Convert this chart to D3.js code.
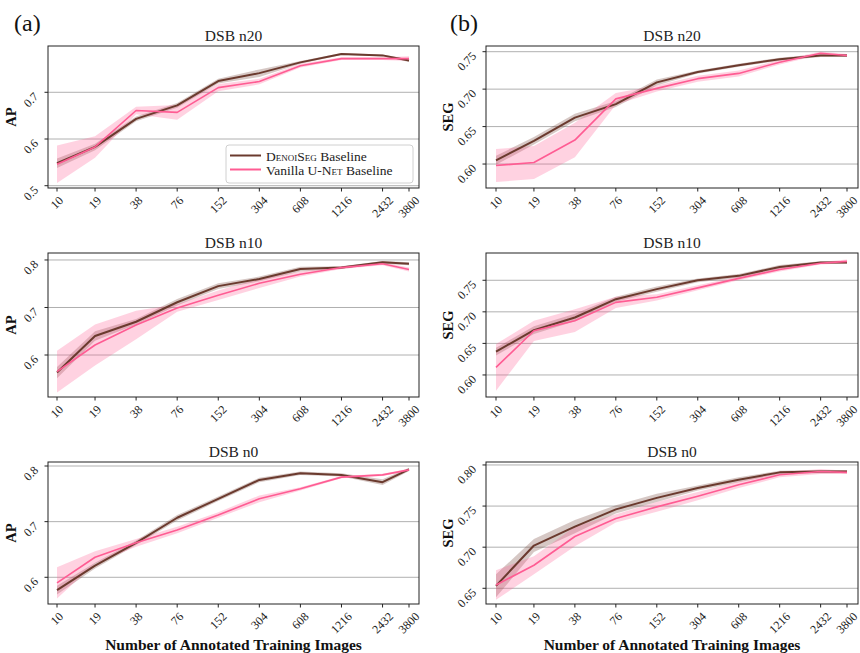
<!DOCTYPE html>
<html>
<head>
<meta charset="utf-8">
<script src="https://cdn.jsdelivr.net/npm/d3@7"></script>
<style>
  body { margin: 0; background: #fff; }
  svg { display: block; font-family: "Liberation Serif", "DejaVu Serif", serif; }
</style>
</head>
<body>
<div id="chart"></div>
<script>
// training set sizes (x axis, log scale)
const sizes = [10, 19, 38, 76, 152, 304, 608, 1216, 2432, 3800];

// AP, n20
const apN20Denoiseg   = [0.548, 0.583, 0.643, 0.672, 0.724, 0.741, 0.764, 0.782, 0.779, 0.768];
const apN20DenoisegSd = [0.010, 0.007, 0.005, 0.005, 0.005, 0.008, 0.003, 0.002, 0.002, 0.003];
const apN20Vanilla    = [0.546, 0.583, 0.661, 0.657, 0.710, 0.723, 0.757, 0.772, 0.772, 0.772];
const apN20VanillaSd  = [0.040, 0.023, 0.008, 0.016, 0.008, 0.006, 0.004, 0.003, 0.003, 0.005];
// SEG, n20
const segN20Denoiseg   = [0.605, 0.631, 0.662, 0.680, 0.709, 0.723, 0.732, 0.740, 0.745, 0.745];
const segN20DenoisegSd = [0.006, 0.005, 0.005, 0.004, 0.004, 0.002, 0.002, 0.002, 0.002, 0.002];
const segN20Vanilla    = [0.598, 0.602, 0.632, 0.687, 0.701, 0.714, 0.721, 0.736, 0.748, 0.745];
const segN20VanillaSd  = [0.022, 0.022, 0.023, 0.008, 0.004, 0.004, 0.004, 0.003, 0.002, 0.002];
// AP, n10
const apN10Denoiseg   = [0.563, 0.640, 0.670, 0.711, 0.745, 0.760, 0.781, 0.784, 0.795, 0.792];
const apN10DenoisegSd = [0.012, 0.010, 0.006, 0.007, 0.006, 0.005, 0.005, 0.003, 0.003, 0.003];
const apN10Vanilla    = [0.565, 0.621, 0.663, 0.699, 0.726, 0.751, 0.770, 0.784, 0.792, 0.780];
const apN10VanillaSd  = [0.044, 0.043, 0.030, 0.008, 0.010, 0.010, 0.005, 0.003, 0.003, 0.004];
// SEG, n10
const segN10Denoiseg   = [0.637, 0.671, 0.691, 0.720, 0.736, 0.750, 0.757, 0.771, 0.778, 0.778];
const segN10DenoisegSd = [0.006, 0.006, 0.006, 0.004, 0.004, 0.003, 0.003, 0.003, 0.002, 0.002];
const segN10Vanilla    = [0.612, 0.670, 0.686, 0.715, 0.723, 0.738, 0.753, 0.767, 0.777, 0.780];
const segN10VanillaSd  = [0.037, 0.016, 0.018, 0.009, 0.005, 0.004, 0.003, 0.003, 0.002, 0.003];
// AP, n0
const apN0Denoiseg   = [0.577, 0.621, 0.662, 0.707, 0.741, 0.775, 0.787, 0.784, 0.771, 0.794];
const apN0DenoisegSd = [0.008, 0.005, 0.004, 0.005, 0.004, 0.004, 0.003, 0.003, 0.005, 0.003];
const apN0Vanilla    = [0.590, 0.636, 0.662, 0.685, 0.712, 0.741, 0.759, 0.780, 0.784, 0.793];
const apN0VanillaSd  = [0.028, 0.011, 0.007, 0.006, 0.005, 0.006, 0.003, 0.002, 0.002, 0.002];
// SEG, n0
const segN0Denoiseg   = [0.653, 0.702, 0.725, 0.746, 0.760, 0.772, 0.782, 0.791, 0.792, 0.792];
const segN0DenoisegSd = [0.014, 0.008, 0.008, 0.005, 0.005, 0.003, 0.003, 0.002, 0.002, 0.002];
const segN0Vanilla    = [0.654, 0.678, 0.713, 0.735, 0.749, 0.762, 0.776, 0.788, 0.792, 0.791];
const segN0VanillaSd  = [0.018, 0.011, 0.012, 0.005, 0.006, 0.005, 0.004, 0.003, 0.003, 0.002];

const apTicks1 = [0.5, 0.6, 0.7];
const apTicks  = [0.6, 0.7, 0.8];
const segTicks1 = [0.60, 0.65, 0.70, 0.75];
const segTicks3 = [0.65, 0.70, 0.75, 0.80];

const brown = "#6b3a2e";
const pink = "#ff5c93";

const width = 860, height = 653;
const svg = d3.select("#chart").append("svg")
    .attr("width", width)
    .attr("height", height);

// column / row boxes in pixels
const cols = [
    { left: 48, right: 419, x0: 57, x1: 409, ylab: 11 },
    { left: 486, right: 858, x0: 496, x1: 847, ylab: 448 }
];
const rows = [
    { top: 46, bottom: 188 },
    { top: 253, bottom: 397 },
    { top: 462, bottom: 604 }
];

const panels = [
    { col: 0, row: 0, title: "DSB n20", ylabel: "AP", domain: [0.4951, 0.7991], ticks: apTicks1, fmt: ".1f",
      d: apN20Denoiseg, dsd: apN20DenoisegSd, v: apN20Vanilla, vsd: apN20VanillaSd, legend: true },
    { col: 1, row: 0, title: "DSB n20", ylabel: "SEG", domain: [0.568, 0.7576], ticks: segTicks1, fmt: ".2f",
      d: segN20Denoiseg, dsd: segN20DenoisegSd, v: segN20Vanilla, vsd: segN20VanillaSd },
    { col: 0, row: 1, title: "DSB n10", ylabel: "AP", domain: [0.5116, 0.8147], ticks: apTicks, fmt: ".1f",
      d: apN10Denoiseg, dsd: apN10DenoisegSd, v: apN10Vanilla, vsd: apN10VanillaSd },
    { col: 1, row: 1, title: "DSB n10", ylabel: "SEG", domain: [0.5651, 0.7932], ticks: segTicks1, fmt: ".2f",
      d: segN10Denoiseg, dsd: segN10DenoisegSd, v: segN10Vanilla, vsd: segN10VanillaSd },
    { col: 0, row: 2, title: "DSB n0", ylabel: "AP", domain: [0.552, 0.8072], ticks: apTicks, fmt: ".1f",
      d: apN0Denoiseg, dsd: apN0DenoisegSd, v: apN0Vanilla, vsd: apN0VanillaSd },
    { col: 1, row: 2, title: "DSB n0", ylabel: "SEG", domain: [0.6309, 0.8036], ticks: segTicks3, fmt: ".2f",
      d: segN0Denoiseg, dsd: segN0DenoisegSd, v: segN0Vanilla, vsd: segN0VanillaSd }
];

panels.forEach(p => {
    const c = cols[p.col], r = rows[p.row];
    const x = d3.scaleLog().domain([sizes[0], sizes[sizes.length - 1]]).range([c.x0, c.x1]);
    const y = d3.scaleLinear().domain(p.domain).range([r.bottom, r.top]);
    const g = svg.append("g");

    // grid
    g.selectAll("line.grid")
        .data(p.ticks)
        .join("line")
        .attr("x1", c.left).attr("x2", c.right)
        .attr("y1", d => y(d)).attr("y2", d => y(d))
        .attr("stroke", "#b0b0b0")
        .attr("stroke-width", 1);

    const series = [
        { m: p.d, s: p.dsd, color: brown, bandOp: 0.28, lw: 2 },
        { m: p.v, s: p.vsd, color: pink, bandOp: 0.28, lw: 1.6 }
    ];

    const area = d3.area()
        .x((d, i) => x(sizes[i]))
        .y0(d => y(d[0] - d[1]))
        .y1(d => y(d[0] + d[1]));
    const line = d3.line()
        .x((d, i) => x(sizes[i]))
        .y(d => y(d));

    series.forEach(s => {
        g.append("path")
            .datum(s.m.map((m, i) => [m, s.s[i]]))
            .attr("d", area)
            .attr("fill", s.color)
            .attr("fill-opacity", s.bandOp);
    });
    series.forEach(s => {
        g.append("path")
            .datum(s.m)
            .attr("d", line)
            .attr("fill", "none")
            .attr("stroke", s.color)
            .attr("stroke-width", s.lw)
            .attr("stroke-linejoin", "round");
    });

    // frame
    g.append("rect")
        .attr("x", c.left).attr("y", r.top)
        .attr("width", c.right - c.left).attr("height", r.bottom - r.top)
        .attr("fill", "none")
        .attr("stroke", "#222")
        .attr("stroke-width", 1);

    // x ticks
    sizes.forEach(v => {
        const px = x(v);
        g.append("line")
            .attr("x1", px).attr("x2", px)
            .attr("y1", r.bottom).attr("y2", r.bottom + 3.5)
            .attr("stroke", "#222");
        const t = g.append("text")
            .text(v)
            .attr("font-size", 12)
            .attr("text-anchor", "middle")
            .attr("dominant-baseline", "central")
            .attr("fill", "#222");
        const w = t.node().getComputedTextLength();
        const h = (w + 8.5) * Math.SQRT1_2;
        t.attr("transform", `translate(${px},${r.bottom + 7.5 + h / 2}) rotate(-45)`);
    });

    // y ticks
    p.ticks.forEach(v => {
        const py = y(v);
        g.append("line")
            .attr("x1", c.left - 3.5).attr("x2", c.left)
            .attr("y1", py).attr("y2", py)
            .attr("stroke", "#222");
        g.append("text")
            .text(d3.format(p.fmt)(v))
            .attr("font-size", 12)
            .attr("text-anchor", "end")
            .attr("fill", "#222")
            .attr("transform", `translate(${c.left - 9},${py + 5}) rotate(-45)`);
    });

    // title
    g.append("text")
        .attr("x", (c.left + c.right) / 2)
        .attr("y", r.top - 5)
        .attr("text-anchor", "middle")
        .attr("font-size", 15.5)
        .attr("fill", "#222")
        .text(p.title);

    // y label
    g.append("text")
        .attr("transform", `translate(${c.ylab},${(r.top + r.bottom) / 2}) rotate(-90)`)
        .attr("text-anchor", "middle")
        .attr("dominant-baseline", "central")
        .attr("font-size", 14.5)
        .attr("font-weight", "bold")
        .attr("fill", "#111")
        .text(p.ylabel);

    if (p.legend) {
        const lg = g.append("g");
        lg.append("rect")
            .attr("x", 226).attr("y", 145)
            .attr("width", 187).attr("height", 38)
            .attr("rx", 3)
            .attr("fill", "#fff").attr("fill-opacity", 0.85)
            .attr("stroke", "#d0d0d0");
        const items = [
            { color: brown, parts: [["D", false], ["enoi", true], ["S", false], ["eg", true], [" Baseline", false]] },
            { color: pink, parts: [["Vanilla U-N", false], ["et", true], [" Baseline", false]] }
        ];
        items.forEach((it, i) => {
            const ly = 155.5 + i * 14;
            lg.append("line")
                .attr("x1", 230).attr("x2", 261)
                .attr("y1", ly).attr("y2", ly)
                .attr("stroke", it.color)
                .attr("stroke-width", 2);
            const t = lg.append("text")
                .attr("x", 266).attr("y", ly)
                .attr("dominant-baseline", "central")
                .attr("font-size", 13.5)
                .attr("fill", "#222");
            it.parts.forEach(pt => {
                t.append("tspan")
                    .text(pt[0])
                    .style("font-variant", pt[1] ? "small-caps" : "normal");
            });
        });
    }
});

// x labels
[0, 1].forEach(ci => {
    const c = cols[ci];
    svg.append("text")
        .attr("x", (c.left + c.right) / 2)
        .attr("y", 650)
        .attr("text-anchor", "middle")
        .attr("font-size", 15.5)
        .attr("font-weight", "bold")
        .attr("fill", "#111")
        .text("Number of Annotated Training Images");
});

// panel letters
svg.append("text").attr("x", 14).attr("y", 31).attr("font-size", 24).attr("fill", "#111").text("(a)");
svg.append("text").attr("x", 450).attr("y", 31).attr("font-size", 24).attr("fill", "#111").text("(b)");
</script>
</body>
</html>
